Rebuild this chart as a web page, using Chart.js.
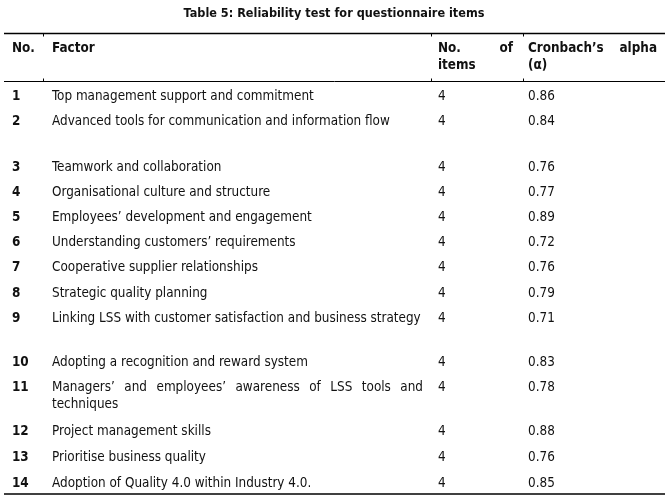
<!DOCTYPE html>
<html>
<head>
<meta charset="utf-8">
<script src="https://cdn.jsdelivr.net/npm/chart.js@4.4.0/dist/chart.umd.min.js"></script>
<style>
  html, body { margin: 0; padding: 0; background: #ffffff; }
  #wrap { width: 667px; height: 500px; }
</style>
</head>
<body>
<div id="wrap"><canvas id="c" width="667" height="500"></canvas></div>
<script>
// ---------- data ----------
const titleText = 'Table 5: Reliability test for questionnaire items';
const headerNo = 'No.';
const headerFactor = 'Factor';
const headerItems = ['No. of', 'items'];
const headerAlpha = ['Cronbach’s alpha', '(α)'];
const rowNumbers = ['1','2','3','4','5','6','7','8','9','10','11','12','13','14'];
const factors = [
  'Top management support and commitment',
  'Advanced tools for communication and information flow',
  'Teamwork and collaboration',
  'Organisational culture and structure',
  'Employees’ development and engagement',
  'Understanding customers’ requirements',
  'Cooperative supplier relationships',
  'Strategic quality planning',
  'Linking LSS with customer satisfaction and business strategy',
  'Adopting a recognition and reward system',
  'Managers’ and employees’ awareness of LSS tools and techniques',
  'Project management skills',
  'Prioritise business quality',
  'Adoption of Quality 4.0 within Industry 4.0.'
];
const itemCounts = [4,4,4,4,4,4,4,4,4,4,4,4,4,4];
const alphaValues = [0.86,0.84,0.76,0.77,0.89,0.72,0.76,0.79,0.71,0.83,0.78,0.88,0.76,0.85];

// ---------- layout (row slots in line units, column x positions) ----------
const PITCH = 25.2;            // px per row unit
const FIRST_ROW_PX = 96.5;     // pixel of slot 0
const rowSlots = [0, 1, 2.82, 3.81, 4.8, 5.79, 6.79, 7.82, 8.81, 10.56, 11.55, 13.3, 14.33, 15.36];
const COL_X = { no: 12, factor: 52, items: 438, alpha: 528 };
const FACTOR_WIDTH = 371;
const ITEMS_RIGHT = 513, ALPHA_RIGHT = 657;
const FONT_FAMILY = '"DejaVu Sans Condensed", "DejaVu Sans", sans-serif';

const slot = px => (px - FIRST_ROW_PX) / PITCH;

function mkData(x) { return rowSlots.map(s => ({ x: x, y: s })); }

const tablePlugin = {
  id: 'tableText',
  afterDatasetsDraw(chart) {
    const ctx = chart.ctx;
    const ys = chart.scales.y, xs = chart.scales.x;
    const Y = px => ys.getPixelForValue(slot(px));
    const X = v => xs.getPixelForValue(v);
    ctx.save();
    // fit body font size so the longest single-line factor spans the column
    ctx.font = '13px ' + FONT_FAMILY;
    const w13 = ctx.measureText(factors[8]).width;
    const bodySize = 13 * 369 / w13;
    const bodyFont = bodySize.toFixed(2) + 'px ' + FONT_FAMILY;
    const boldFont = 'bold ' + bodyFont;
    ctx.font = 'bold 13px ' + FONT_FAMILY;
    const t13 = ctx.measureText(titleText).width;
    const titleFont = 'bold ' + (13 * 301 / t13).toFixed(2) + 'px ' + FONT_FAMILY;

    ctx.fillStyle = '#111';
    ctx.textBaseline = 'middle';

    // title
    ctx.font = titleFont;
    ctx.textAlign = 'center';
    ctx.fillText(titleText, X(334), Y(13.5));

    // rules
    ctx.strokeStyle = '#000';
    const rule = (py, lw) => {
      ctx.lineWidth = lw;
      ctx.beginPath();
      ctx.moveTo(X(4), Y(py));
      ctx.lineTo(X(665), Y(py));
      ctx.stroke();
    };
    rule(33.5, 1.5);
    rule(81.5, 1);
    rule(494, 1.5);
    // tiny column-border ticks
    ctx.lineWidth = 1;
    [43.5, 431.5, 523.5].forEach(cx => {
      ctx.beginPath();
      ctx.moveTo(X(cx), Y(34)); ctx.lineTo(X(cx), Y(36.5));
      ctx.moveTo(X(cx), Y(78.5)); ctx.lineTo(X(cx), Y(81));
      ctx.stroke();
    });

    // headers
    ctx.font = boldFont;
    ctx.textAlign = 'left';
    ctx.fillText(headerNo, X(COL_X.no), Y(49));
    ctx.fillText(headerFactor, X(COL_X.factor), Y(49));
    const hi = headerItems[0].split(' ');
    ctx.fillText(hi[0], X(COL_X.items), Y(49));
    ctx.textAlign = 'right';
    ctx.fillText(hi[1], X(ITEMS_RIGHT), Y(49));
    ctx.textAlign = 'left';
    ctx.fillText(headerItems[1], X(COL_X.items), Y(65.5));
    const ha = headerAlpha[0].split(' ');
    ctx.fillText(ha[0], X(COL_X.alpha), Y(49));
    ctx.textAlign = 'right';
    ctx.fillText(ha[1], X(ALPHA_RIGHT), Y(49));
    ctx.textAlign = 'left';
    ctx.fillText(headerAlpha[1], X(COL_X.alpha), Y(65.5));

    // body cells from dataset elements
    chart.data.datasets.forEach((ds, di) => {
      const meta = chart.getDatasetMeta(di);
      meta.data.forEach((el, i) => {
        const txt = ds.cellText[i];
        ctx.font = ds.bold ? boldFont : bodyFont;
        ctx.textAlign = 'left';
        if (ds.wrap) {
          // greedy wrap + justify
          const words = txt.split(' ');
          const lines = [];
          let cur = [];
          words.forEach(w => {
            const trial = cur.concat([w]).join(' ');
            if (cur.length && ctx.measureText(trial).width > FACTOR_WIDTH) {
              lines.push(cur); cur = [w];
            } else cur.push(w);
          });
          if (cur.length) lines.push(cur);
          lines.forEach((lw, li) => {
            const y = el.y + li * 17;
            if (li < lines.length - 1 && lw.length > 1) {
              const wordsW = lw.reduce((a, w) => a + ctx.measureText(w).width, 0);
              const gap = (FACTOR_WIDTH - wordsW) / (lw.length - 1);
              let x = el.x;
              lw.forEach(w => { ctx.fillText(w, x, y); x += ctx.measureText(w).width + gap; });
            } else {
              ctx.fillText(lw.join(' '), el.x, y);
            }
          });
        } else {
          ctx.fillText(txt, el.x, el.y);
        }
      });
    });
    ctx.restore();
  }
};

new Chart(document.getElementById('c'), {
  type: 'scatter',
  data: {
    datasets: [
      { label: 'No.', data: mkData(COL_X.no), cellText: rowNumbers, bold: true, pointRadius: 0 },
      { label: 'Factor', data: mkData(COL_X.factor), cellText: factors, wrap: true, pointRadius: 0 },
      { label: 'No. of items', data: mkData(COL_X.items), cellText: itemCounts.map(String), pointRadius: 0 },
      { label: 'Cronbach’s alpha', data: mkData(COL_X.alpha), cellText: alphaValues.map(v => v.toFixed(2)), pointRadius: 0 }
    ]
  },
  options: {
    responsive: false,
    animation: false,
    events: [],
    layout: { padding: 0 },
    plugins: { legend: { display: false }, tooltip: { enabled: false }, title: { display: false } },
    scales: {
      x: { type: 'linear', display: false, min: 0, max: 667 },
      y: { type: 'linear', display: false, reverse: true, min: slot(0), max: slot(500) }
    }
  },
  plugins: [tablePlugin]
});
</script>
</body>
</html>
